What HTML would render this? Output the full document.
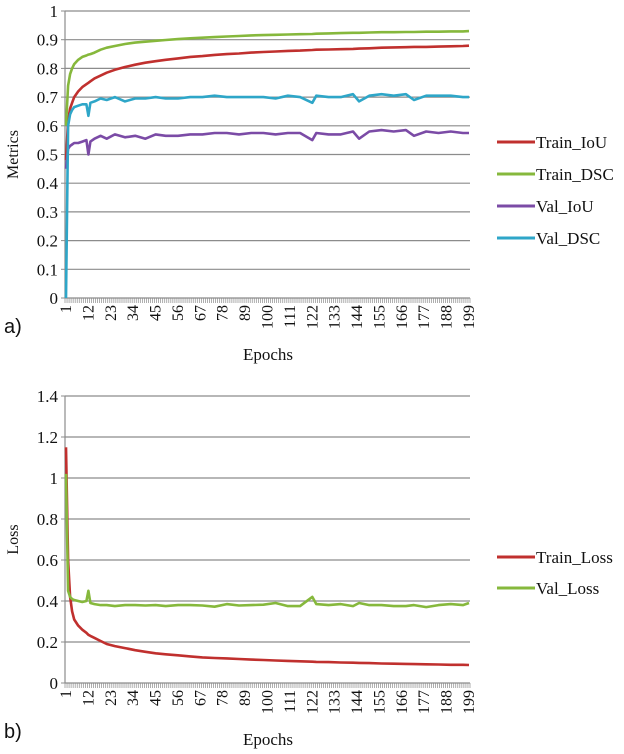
<!DOCTYPE html>
<html><head><meta charset="utf-8"><style>
body{margin:0;background:#fff;}
svg{display:block;font-family:"Liberation Serif",serif;}
</style></head><body>
<svg id="c" width="624" height="754"></svg>
<script>
const epochs=[1,2,3,4,5,7,9,11,12,13,15,18,21,25,30,35,40,45,50,56,62,68,74,80,86,92,98,104,110,116,122,124,130,136,142,145,150,156,162,168,172,178,184,190,196,199];
const trainIoU=[0.48,0.62,0.66,0.68,0.70,0.72,0.735,0.745,0.75,0.755,0.765,0.775,0.785,0.795,0.805,0.813,0.82,0.825,0.83,0.835,0.84,0.843,0.847,0.85,0.852,0.855,0.857,0.859,0.861,0.862,0.864,0.865,0.866,0.867,0.868,0.869,0.870,0.872,0.873,0.874,0.875,0.875,0.876,0.877,0.878,0.879];
const trainDSC=[0.6,0.74,0.78,0.8,0.815,0.83,0.84,0.845,0.848,0.85,0.855,0.865,0.872,0.878,0.885,0.89,0.893,0.896,0.899,0.902,0.905,0.907,0.909,0.911,0.913,0.915,0.916,0.917,0.918,0.919,0.92,0.921,0.922,0.923,0.924,0.924,0.925,0.926,0.926,0.927,0.927,0.928,0.928,0.929,0.929,0.93];
const valIoU=[0.45,0.52,0.53,0.535,0.54,0.54,0.545,0.55,0.5,0.545,0.555,0.565,0.555,0.57,0.56,0.565,0.555,0.57,0.565,0.565,0.57,0.57,0.575,0.575,0.57,0.575,0.575,0.57,0.575,0.575,0.55,0.575,0.57,0.57,0.58,0.555,0.58,0.585,0.58,0.585,0.565,0.58,0.575,0.58,0.575,0.575];
const valDSC=[0.0,0.6,0.64,0.655,0.665,0.67,0.675,0.675,0.635,0.68,0.685,0.695,0.69,0.7,0.685,0.695,0.695,0.7,0.695,0.695,0.7,0.7,0.705,0.7,0.7,0.7,0.7,0.695,0.705,0.7,0.68,0.705,0.7,0.7,0.71,0.685,0.705,0.71,0.705,0.71,0.69,0.705,0.705,0.705,0.7,0.7];
const trainLoss=[1.15,0.6,0.42,0.35,0.31,0.28,0.26,0.245,0.235,0.23,0.22,0.205,0.19,0.18,0.17,0.16,0.152,0.145,0.14,0.135,0.13,0.125,0.122,0.12,0.117,0.114,0.112,0.11,0.108,0.106,0.104,0.103,0.102,0.1,0.099,0.098,0.097,0.095,0.094,0.093,0.092,0.091,0.09,0.089,0.089,0.088];
const valLoss=[1.02,0.45,0.42,0.41,0.405,0.40,0.395,0.40,0.45,0.39,0.385,0.38,0.38,0.375,0.38,0.38,0.378,0.38,0.375,0.38,0.38,0.378,0.372,0.385,0.378,0.38,0.382,0.39,0.375,0.375,0.42,0.385,0.38,0.385,0.375,0.39,0.38,0.38,0.375,0.375,0.38,0.37,0.38,0.385,0.38,0.39];
const xTickLabels=[1,12,23,34,45,56,67,78,89,100,111,122,133,144,155,166,177,188,199];
const metricTicks=[0,0.1,0.2,0.3,0.4,0.5,0.6,0.7,0.8,0.9,1];
const lossTicks=[0,0.2,0.4,0.6,0.8,1,1.2,1.4];

const svg=document.getElementById('c');
const NS='http://www.w3.org/2000/svg';
function mk(tag,attrs,parent){const e=document.createElementNS(NS,tag);for(const k in attrs)e.setAttribute(k,attrs[k]);(parent||svg).appendChild(e);return e;}

function chart(o){
  const g=mk('g',{});
  
  
  const L=65,R=470,N=199,pitch=(R-L)/N;
  const xs=e=>L+(e-0.5)*pitch;
  const ys=v=>o.y0+(o.y1-o.y0)*(v/o.max);
  o.ticks.forEach(t=>{
    const y=ys(t);
    if(t>0){const gl=mk('line',{x1:L,x2:R,y1:y,y2:y,stroke:'#8c8c8c','stroke-width':1.2},g);
      
      }
    mk('line',{x1:L-4,x2:L,y1:y,y2:y,stroke:'#8c8c8c'},g);
    const tx=mk('text',{x:L-7,y:y+6,'text-anchor':'end','font-size':17,fill:'#111'},g);
    tx.textContent=String(t);
    
    
  });
  const ax=mk('line',{x1:L,x2:L,y1:o.y1,y2:o.y0,stroke:'#8c8c8c','stroke-width':1.2},g);
  
  
  const xa=mk('line',{x1:L,x2:R,y1:o.y0,y2:o.y0,stroke:'#8c8c8c','stroke-width':1.2},g);
  
  
  for(let i=0;i<=N;i++){mk('line',{x1:L+i*pitch,x2:L+i*pitch,y1:o.y0,y2:o.y0+5,stroke:'#8c8c8c','stroke-width':0.7},g);}
  xTickLabels.forEach(e=>{
    const x=xs(e)+5,y=o.y0+7;
    const t=mk('text',{x:x,y:y,'text-anchor':'end','font-size':16,fill:'#111',transform:`rotate(-90 ${x} ${y})`},g);
    t.textContent=String(e);
    
    
  });
  const yt=mk('text',{x:0,y:0,'text-anchor':'middle','font-size':16,fill:'#111',transform:`translate(18 ${(o.y0+o.y1)/2}) rotate(-90)`},g);
  yt.textContent=o.ytitle;
  
  
  const xt=mk('text',{x:268,y:o.y0+62,'text-anchor':'middle','font-size':17,fill:'#111'},g);
  xt.textContent='Epochs';
  
  
  const pl=mk('text',{x:4,y:o.panelY,'font-size':20,fill:'#111','font-family':'Liberation Sans, sans-serif'},g);
  pl.textContent=o.panel;
  
  
  o.series.forEach((s,i)=>{
    const d=epochs.map((e,j)=>(j?'L':'M')+xs(e).toFixed(1)+' '+ys(s.v[j]).toFixed(1)).join(' ');
    const p=mk('path',{d:d,fill:'none',stroke:s.c,'stroke-width':2.6,'stroke-linejoin':'round'},g);
    
    
    const ly=o.legY+i*o.legStep;
    const le=mk('g',{},g);
    
    
    mk('line',{x1:497,x2:535,y1:ly,y2:ly,stroke:s.c,'stroke-width':3},le);
    const lt=mk('text',{x:536,y:ly+6,'font-size':17,fill:'#111'},le);
    lt.textContent=s.n;
  });
}
chart({name:'metrics-chart',y0:298,y1:11,max:1,ticks:metricTicks,ytitle:'Metrics',panel:'a)',panelY:333,legY:142,legStep:32,
  series:[{n:'Train_IoU',v:trainIoU,c:'#c0302e'},{n:'Train_DSC',v:trainDSC,c:'#86b83c'},{n:'Val_IoU',v:valIoU,c:'#7b4ba6'},{n:'Val_DSC',v:valDSC,c:'#2ea6c8'}]});
chart({name:'loss-chart',y0:683,y1:396,max:1.4,ticks:lossTicks,ytitle:'Loss',panel:'b)',panelY:738,legY:557,legStep:31,
  series:[{n:'Train_Loss',v:trainLoss,c:'#c0302e'},{n:'Val_Loss',v:valLoss,c:'#86b83c'}]});
</script>
</body></html>
